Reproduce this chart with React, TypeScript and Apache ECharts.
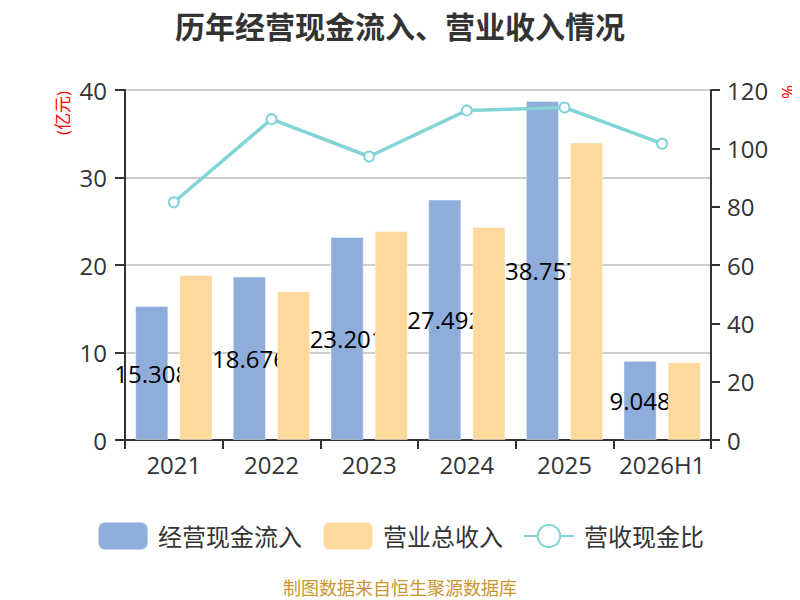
import React, { useEffect, useRef } from "react";
import * as echarts from "echarts";

const categories = ["2021", "2022", "2023", "2024", "2025", "2026H1"];
const cashInflow = [15.308, 18.676, 23.201, 27.492, 38.757, 9.048];
const revenue = [18.85, 17.0, 23.9, 24.35, 34.0, 8.9];
const ratio = [81.5, 110, 97.2, 113, 114, 101.6];
const seriesNames = ["经营现金流入", "营业总收入", "营收现金比"];
const titleText = "历年经营现金流入、营业收入情况";
const footerText = "制图数据来自恒生聚源数据库";
const leftUnit = "(亿元)";
const rightUnit = "%";

const FONT = "'Open Sans', 'Noto Sans CJK SC', sans-serif";

export default function App() {
  const ref = useRef<HTMLDivElement>(null);
  useEffect(() => {
    if (!ref.current) return;
    const chart = echarts.init(ref.current, null, { renderer: "svg" });
    chart.setOption({
      animation: false,
      textStyle: { fontFamily: FONT },
      title: {
        text: titleText,
        left: "center",
        top: 6,
        textStyle: { fontSize: 30, fontWeight: "bold", color: "#333", fontFamily: FONT },
      },
      grid: { left: 125, right: 89, top: 90, bottom: 160 },
      legend: {
        left: 97,
        top: 521,
        padding: 0,
        itemWidth: 50,
        itemHeight: 28,
        itemGap: 20,
        textStyle: { fontSize: 24, color: "#333", padding: [0, 0, 0, 5], fontFamily: FONT },
        data: [
          { name: seriesNames[0], icon: "roundRect" },
          { name: seriesNames[1], icon: "roundRect" },
          { name: seriesNames[2] },
        ],
      },
      xAxis: {
        type: "category",
        data: categories,
        axisLine: { lineStyle: { color: "#333", width: 2 } },
        axisTick: { show: true, interval: 0, length: 9, lineStyle: { color: "#333", width: 2 } },
        axisLabel: { fontSize: 24, color: "#333", margin: 12, interval: 0 },
      },
      yAxis: [
        {
          type: "value",
          min: 0,
          max: 40,
          interval: 10,
          axisLine: { show: true, lineStyle: { color: "#333", width: 2 } },
          axisTick: { show: true, length: 10, lineStyle: { color: "#333", width: 2 } },
          axisLabel: { fontSize: 24, color: "#333", margin: 18 },
          splitLine: { lineStyle: { color: "#cccccc", width: 2 } },
        },
        {
          type: "value",
          min: 0,
          max: 120,
          interval: 20,
          position: "right",
          axisLine: { show: true, lineStyle: { color: "#333", width: 2 } },
          axisTick: { show: true, length: 9, lineStyle: { color: "#333", width: 2 } },
          axisLabel: { fontSize: 24, color: "#333", margin: 16 },
          splitLine: { show: false },
        },
      ],
      graphic: [
        {
          type: "text",
          x: 62,
          y: 113,
          rotation: Math.PI / 2,
          style: {
            text: leftUnit,
            fill: "#ff0000",
            fontSize: 17,
            fontFamily: FONT,
            align: "center",
            verticalAlign: "middle",
          },
        },
        {
          type: "text",
          x: 787,
          y: 92,
          rotation: Math.PI / 2,
          style: {
            text: rightUnit,
            fill: "#ff0000",
            fontSize: 17,
            fontFamily: FONT,
            align: "center",
            verticalAlign: "middle",
          },
        },
        {
          type: "text",
          x: 400,
          y: 588,
          style: {
            text: footerText,
            fill: "#C9962E",
            fontSize: 18,
            fontFamily: FONT,
            align: "center",
            verticalAlign: "middle",
          },
        },
      ],
      series: [
        {
          name: seriesNames[0],
          type: "bar",
          data: cashInflow,
          barWidth: "34%",
          barGap: "33%",
          z: 2,
          itemStyle: { color: "#8EADDA", borderColor: "rgba(255,255,255,0.45)", borderWidth: 1 },
          label: {
            show: true,
            position: "inside",
            fontSize: 24,
            color: "#000",
            formatter: (p: any) => p.value.toFixed(3),
          },
        },
        {
          name: seriesNames[1],
          type: "bar",
          data: revenue,
          barWidth: "34%",
          barGap: "33%",
          z: 3,
          itemStyle: { color: "#FED99B", borderColor: "rgba(255,255,255,0.45)", borderWidth: 1 },
        },
        {
          name: seriesNames[2],
          type: "line",
          yAxisIndex: 1,
          data: ratio,
          z: 4,
          symbol: "emptyCircle",
          symbolSize: 10,
          lineStyle: { color: "#82D4D6", width: 3.5 },
          itemStyle: { color: "#82D4D6", borderWidth: 2 },
        },
      ],
    });
    return () => chart.dispose();
  }, []);
  return <div ref={ref} style={{ width: 800, height: 600, marginLeft: -8, marginTop: -8 }} />;
}
